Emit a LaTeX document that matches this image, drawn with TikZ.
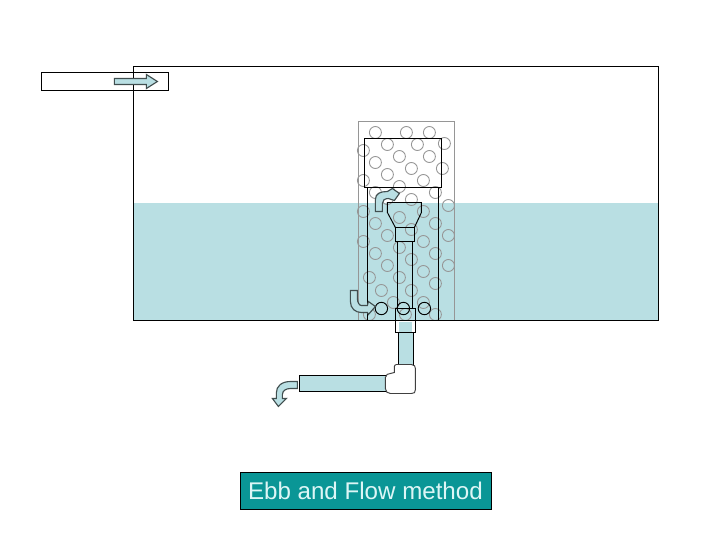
\documentclass[tikz,border=0pt]{standalone}
\usepackage{fontspec}
\setmainfont{Liberation Sans}
\definecolor{water}{HTML}{B9DFE3}
\definecolor{teal1}{HTML}{0A9696}
\definecolor{labeltxt}{HTML}{DDF6F6}
\definecolor{bubblec}{HTML}{969696}
\tikzset{
  blk/.style={draw=black,line width=0.72pt},
  bubble/.style={draw=bubblec,line width=0.65pt},
  dark/.style={draw=black,line width=0.7pt},
  flowarrow/.style={draw=black!65!water,fill=water,line width=0.85pt,line join=miter},
  pipe/.style={draw=black,fill=water,line width=0.72pt},
  caption/.style={draw=black,line width=0.6pt,fill=teal1,text=labeltxt,inner sep=0pt,minimum width=188.25pt,minimum height=27.75pt,font=\fontsize{18.1}{22}\selectfont}
}
\begin{document}
\begin{tikzpicture}[x=0.75pt,y=-0.75pt]
\useasboundingbox (0,0) rectangle (728,546);
\fill[white] (0,0) rectangle (728,546);
\begin{scope}[shift={(-0.6,-0.5)}]
% water
\fill[water] (134,203) rectangle (659,321);
% bubbles
\foreach \p in {(376,133),(407,133),(430,133),(388,145),(418,145),(445,144),(364,151),(400,157),(430,157),(376,163),(412,169),(443,169),(388,175),(364,181),(424,181),(400,187),(436,193),(376,193),(388,199),(412,200),(449,206),(364,212),(424,212),(400,218),(376,224),(436,224),(412,230),(388,236),(449,236),(364,242),(424,242),(400,248),(376,254),(436,254),(412,260),(388,266),(449,266),(424,272),(370,278),(400,278),(436,284),(382,291),(412,291),(394,303),(424,303),(370,315),(406,315),(436,315)}
  \draw[bubble] \p circle (6);
% containers
\draw[bubble] (359,321) -- (359,122) -- (455,122) -- (455,321);
\draw[blk] (365,139) rectangle (442,188);
\draw[blk] (368,188) -- (368,321);
\draw[blk] (439,188) -- (439,321);
% funnel
\draw[blk] (388,203) -- (422,203) -- (422,213) -- (415,228) -- (396,228) -- (388,213) -- cycle;
\draw[blk] (396,228) rectangle (415,242);
\draw[blk] (398,242) -- (398,309);
\draw[blk] (413,242) -- (413,309);
% drain holes
\draw[dark] (382,309) circle (6.2);
\draw[dark] (404,309) circle (6.2);
\draw[dark] (425,309) circle (6.2);
% tank
\draw[blk] (134,321) -- (134,67) -- (659,67) -- (659,321) -- cycle;
% pipes
\draw[pipe] (399,333) rectangle (414,366);
\fill[water] (400,322) rectangle (413,333);
\draw[blk] (396,309) rectangle (416,333);
\draw[pipe] (300,376) rectangle (387,392);
\draw[draw=black!75,fill=white,line width=0.72pt] (395,373) -- (395,367) .. controls (395,366) and (396,365) .. (397,365) -- (412,365) .. controls (415,365) and (416,367) .. (416,369) -- (416,390) .. controls (416,393) and (415,394) .. (412,394) -- (391,394) .. controls (388,394) and (386,392) .. (386,389) -- (386,378) .. controls (386,375) and (389,374) .. (391,374) -- cycle;
% inlet
\draw[blk] (42,73) rectangle (169,91);
\draw[flowarrow] (115,79) -- (147,79) -- (147,75) -- (158,82) -- (147,89) -- (147,85) -- (115,85) -- cycle;
% curved arrows
\draw[flowarrow] (376,212) -- (376,200) .. controls (376,194) and (381,192) .. (388,192) -- (393,189) -- (400,194) -- (395,201) -- (389,199) .. controls (385,199) and (383,201) .. (383,204) -- (383,212) -- cycle;
\draw[flowarrow] (351,291) -- (351,302) .. controls (351,309) and (356,313) .. (362,313) -- (368,313) -- (369,315) -- (376,307) -- (369,302) -- (368,306) -- (362,306) .. controls (360,306) and (358,303) .. (358,299) -- (358,291) -- cycle;
\draw[flowarrow] (298,382) -- (291,382) .. controls (282,382) and (277,387) .. (277,393) -- (277,399) -- (273,399) -- (279,407) -- (287,399) -- (283,399) -- (283,395) .. controls (283,391) and (287,389) .. (291,389) -- (298,389) -- cycle;
% caption
\node[caption] (cap) at (366,491) {Ebb and Flow method};
\end{scope}
\end{tikzpicture}
\end{document}
